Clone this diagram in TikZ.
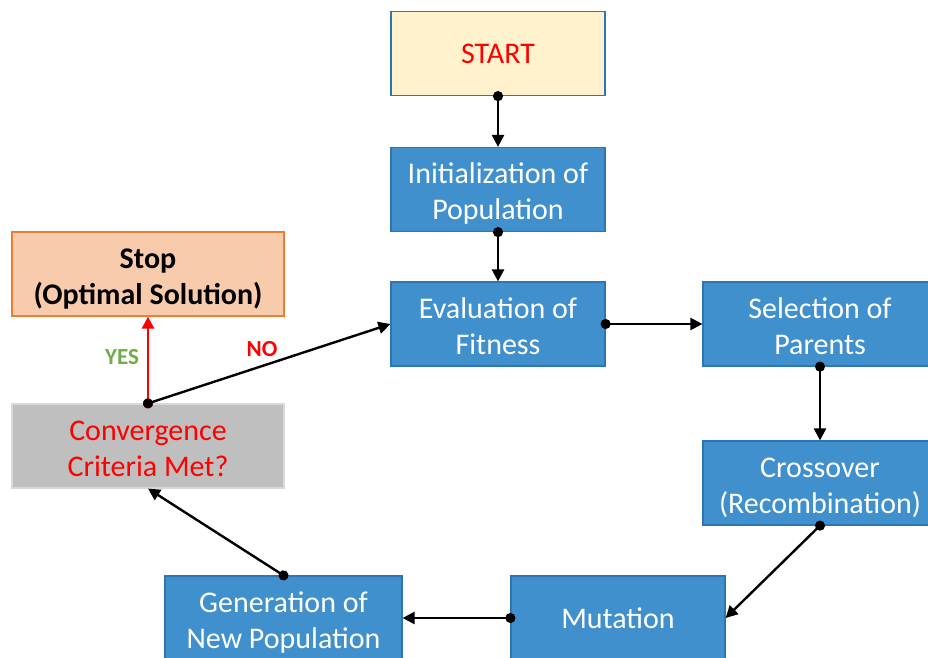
\documentclass[tikz,border=0pt]{standalone}
\usepackage{fontspec}
\setmainfont{Carlito}
\usetikzlibrary{arrows.meta}
\usetikzlibrary{positioning}
\definecolor{boxblue}{RGB}{65,144,206}
\definecolor{lineblue}{RGB}{46,117,182}
\definecolor{startfill}{RGB}{255,242,204}
\definecolor{stopfill}{RGB}{248,203,173}
\definecolor{stopline}{RGB}{237,125,49}
\definecolor{checkfill}{RGB}{191,191,191}
\definecolor{checkline}{RGB}{217,217,217}
\definecolor{yesgreen}{RGB}{112,173,71}
\tikzset{%
  stage/.style={draw=lineblue, line width=1.2pt, rectangle, fill=boxblue, text=white,
    align=center, minimum width=214pt, minimum height=84pt, inner sep=0pt,
    font=\fontsize{30}{36}\selectfont},% blue process box
  startbox/.style={stage, fill=startfill, text=red},% start terminal
  stopbox/.style={stage, draw=stopline, fill=stopfill, text=black,
    minimum width=272pt, font=\fontsize{30}{36}\selectfont\bfseries},% stop terminal
  checkbox/.style={stage, draw=checkline, fill=checkfill, text=red,
    minimum width=272pt},% convergence test
  flow/.style={draw, line width=2.4pt, {Circle[length=10pt]}-{Triangle[length=12pt,width=12pt]},
    shorten <=-5pt},% connector with dot at start
  answer/.style={font=\fontsize{23}{26}\selectfont\bfseries}% yes / no labels
}
% two lines of box text, set a little lower in the box
\newcommand*{\boxtext}[1]{\raisebox{-5pt}[\height][\depth]{\begin{tabular}{@{}c@{}}#1\end{tabular}}}
\begin{document}
\begin{tikzpicture}[x=1pt,y=-1pt]
  \useasboundingbox (0,0) rectangle (928,657);
  \clip (0,0) rectangle (928,657);
  % The boxes of the loop:
  \node[startbox] (start) at (498,53.5) {START};
  \node[stage] (init) at (498,189.5) {\boxtext{Initialization of\\Population}};
  \node[stage] (evalfit) at (498,324) {\boxtext{Evaluation of\\Fitness}};
  \node[stage, minimum width=234pt] (select) at (820,324) {\boxtext{Selection of\\Parents}};
  \node[stage, minimum width=234pt] (cross) at (820,483) {\boxtext{Crossover\\(Recombination)}};
  \node[stage] (mutate) at (618,618) {Mutation};
  \node[stage, minimum width=237pt] (newgen) at (283.5,618) {\boxtext{Generation of\\New Population}};
  \node[checkbox] (converge) at (148,446) {\boxtext{Convergence\\Criteria Met?}};
  \node[stopbox] (stopsol) at (148,274) {\boxtext{Stop\\(Optimal Solution)}};
  % Connect the boxes:
  \draw[flow] (start.south) -- (init.north);
  \draw[flow] (init.south) -- (evalfit.north);
  \draw[flow] (evalfit.east) -- (select.west);
  \draw[flow] (select.south) -- (cross.north);
  \draw[flow] (cross.south) -- (mutate.east);
  \draw[flow] (mutate.west) -- (newgen.east);
  \draw[flow] (newgen.north) -- (converge.south);
  \draw[flow, red] (converge.north) -- (stopsol.south);
  \draw[flow] (converge.north) -- (evalfit.west);
  % Decision labels:
  \node[answer, text=yesgreen] (yes) at (122,357) {YES};
  \node[answer, text=red] (no) at (262,349) {NO};
\end{tikzpicture}
\end{document}
